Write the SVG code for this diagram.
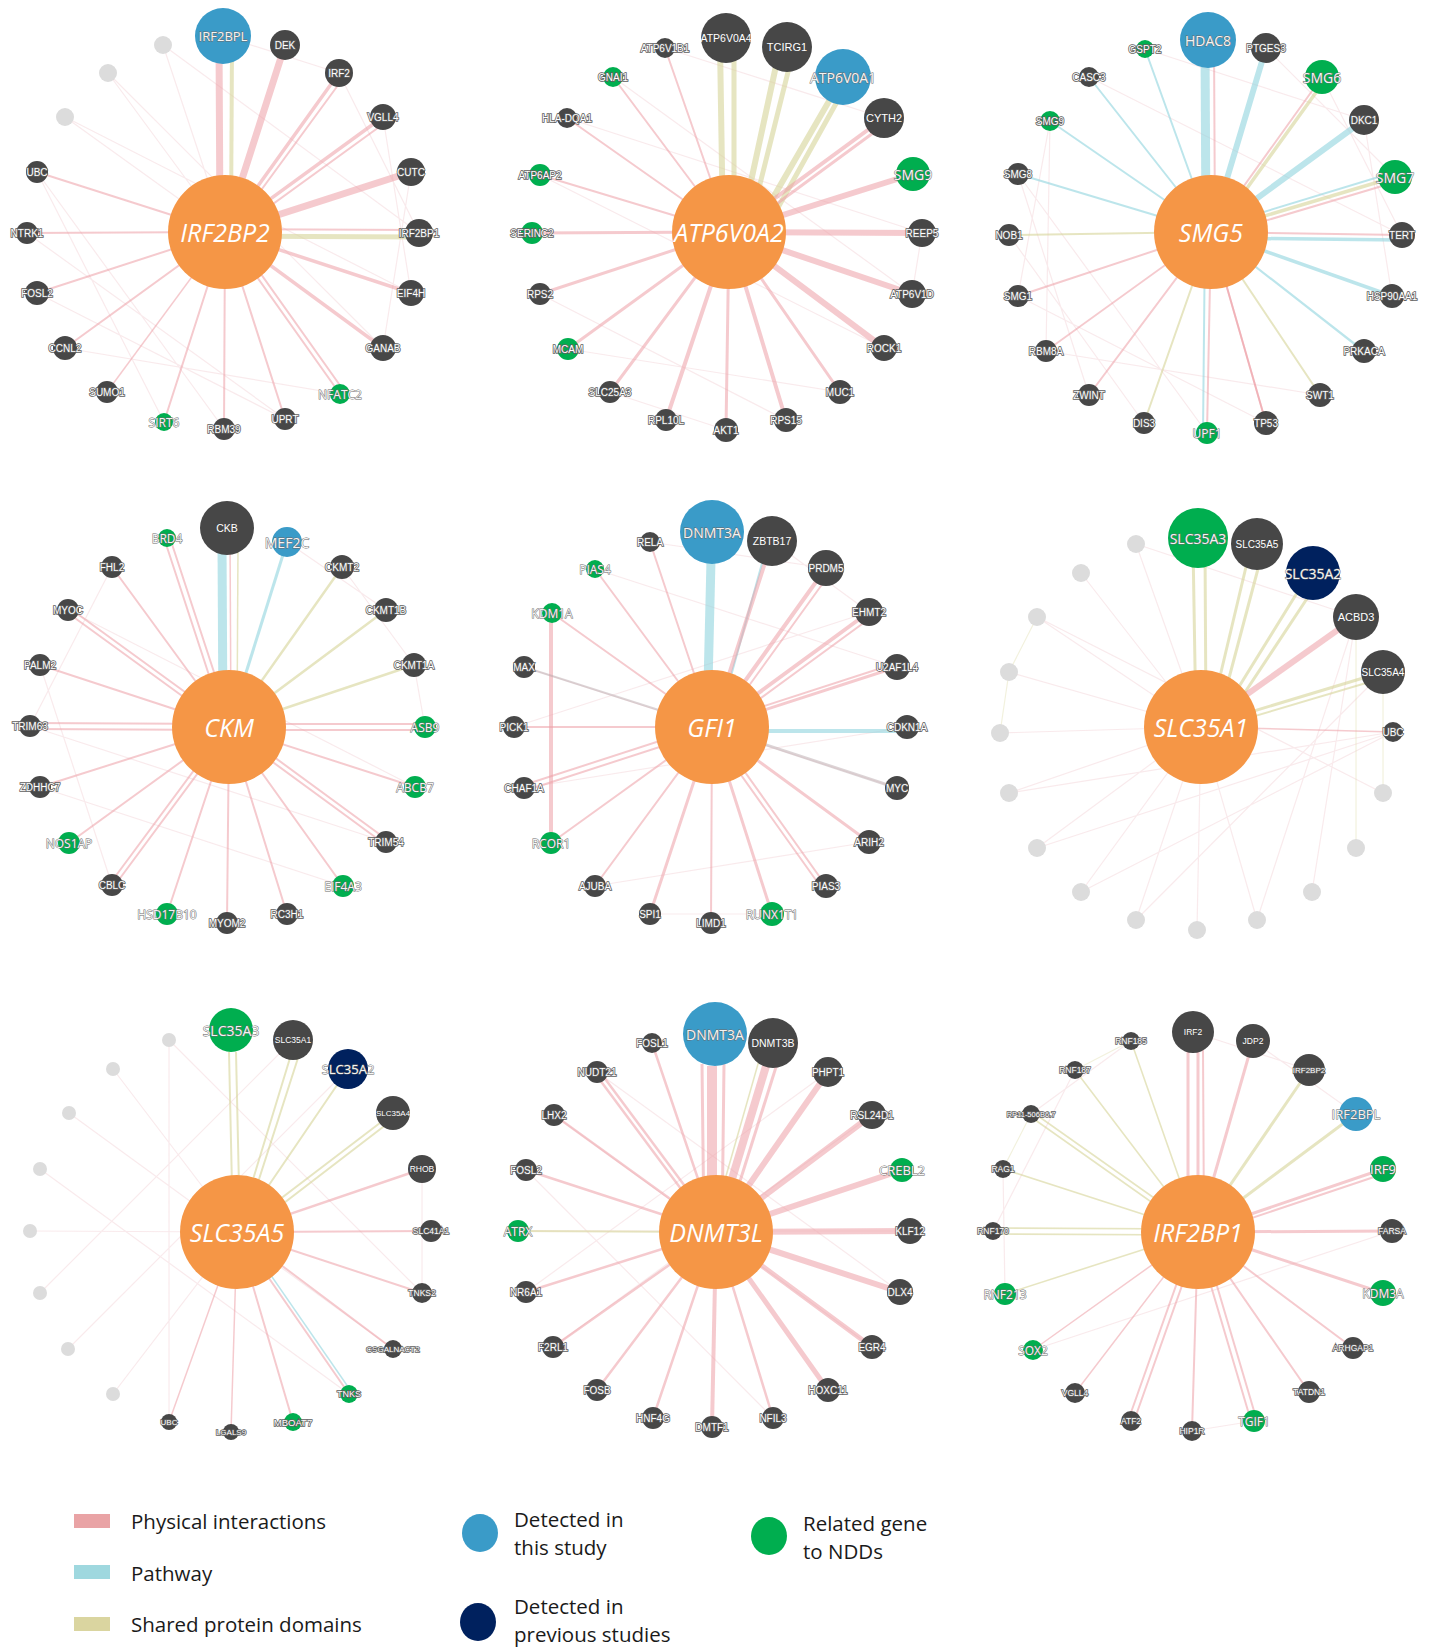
<svg xmlns="http://www.w3.org/2000/svg" width="1432" height="1649" viewBox="0 0 1432 1649">
<style>
.ep{stroke:#ec9ea6;stroke-opacity:.55;fill:none}
.ew{stroke:#8fd4dd;stroke-opacity:.6;fill:none}
.es{stroke:#d6d398;stroke-opacity:.6;fill:none}
.eg{stroke:#b9a9ae;stroke-opacity:.5;fill:none}
.x{stroke:#efc3c8;stroke-opacity:.35;stroke-width:1.2;fill:none}
.xs{stroke:#dfdcaa;stroke-opacity:.4;stroke-width:1.2;fill:none}
.c{fill:#f59646}
.d{fill:#474747}
.b{fill:#3a9bc8}
.g{fill:#00ae4f}
.n{fill:#00215e}
.f{fill:#dcdcdc}
.cl{font-family:"Open Sans",sans-serif;font-style:italic;font-size:25px;fill:#fff;text-anchor:middle;dominant-baseline:central}
.tl{font-family:"Liberation Sans",Arial,sans-serif;font-size:10px;fill:#fff;stroke:#5e5e5e;stroke-width:1.6;paint-order:stroke;text-anchor:middle;dominant-baseline:central}
.tu{font-family:"Open Sans",sans-serif;font-size:12px;fill:#f4f4f4;stroke:#6a6a6a;stroke-width:.9;paint-order:stroke;text-anchor:middle;dominant-baseline:central}
.tv{font-family:"Liberation Sans",Arial,sans-serif;font-size:10.5px;fill:#fff;text-anchor:middle;dominant-baseline:central}
.lg{font-family:"Open Sans","Liberation Sans",sans-serif;font-size:20.5px;fill:#1a1a1a;dominant-baseline:central}
</style>
<rect width="1432" height="1649" fill="#fff"/>
<g id="connectors">
<path class="x" d="M37 172L224 429M37 172L164 422M27 233L285 419M65 117L411 293M108 73L383 348M163 45L419 233M223 36L339 73M383 117L411 293M411 172L383 348M339 73L419 233M65 348L340 394M37 293L285 419M163 45L225 232M108 73L225 232M65 117L225 232"/>
<path class="es" stroke-width="4" d="M231 232L232 40"/>
<path class="es" stroke-width="5" d="M225 236L419 237"/>
<path class="ep" stroke-width="7" d="M220 232L219 40M225 232L285 45M225 232L411 172"/>
<path class="ep" stroke-width="3.5" d="M225 232L339 73M225 232L383 117M225 232L383 348M225 232L411 293"/>
<path class="ep" stroke-width="2" d="M229 234L344 77M229 236L386 122M225 232L340 394M229 229L344 391M225 232L285 419M225 232L224 429M225 232L164 422M225 232L65 348M225 232L37 293M225 232L27 233M225 232L37 172M225 229L419 230"/>
<path class="ep" stroke-width="1.5" d="M225 232L107 392"/>
<path class="x" d="M540 294L786 420M568 349L840 392M540 175L884 348M567 118L922 233M613 77L912 294M665 48L884 118M610 392L726 430M922 233L912 294"/>
<path class="es" stroke-width="6" d="M723 232L720 44M740 232L779 52M752 234L843 77"/>
<path class="es" stroke-width="5" d="M734 232L734 44M748 232L793 52M760 240L848 82"/>
<path class="ep" stroke-width="6" d="M729 232L913 174M729 232L922 233M729 232L912 294M729 232L884 348"/>
<path class="ep" stroke-width="4" d="M729 232L884 118M729 232L786 420M729 232L666 420"/>
<path class="ep" stroke-width="3" d="M733 236L888 122M729 232L840 392M729 232L726 430M729 232L610 392M729 232L568 349M729 232L540 294M729 232L532 233"/>
<path class="ep" stroke-width="2" d="M729 232L540 175M729 232L567 118M729 232L613 77M729 232L665 48"/>
<path class="x" d="M1018 174L1089 395M1009 235L1144 423M1050 121L1046 351M1089 77L1402 235M1145 49L1364 120M1018 296L1266 423M1046 351L1320 395M1266 48L1395 177M1322 77L1402 235M1364 120L1392 296M1018 174L1207 433M1050 121L1018 296"/>
<path class="ew" stroke-width="9" d="M1206 232L1205 48"/>
<path class="ep" stroke-width="2" d="M1215 232L1214 45M1211 232L1322 77M1214 236L1399 181M1211 232L1402 235M1211 232L1266 423M1211 232L1207 433M1211 232L1089 395M1211 232L1018 296"/>
<path class="ew" stroke-width="6" d="M1211 232L1266 48M1211 232L1364 120"/>
<path class="es" stroke-width="3.5" d="M1214 234L1325 80M1211 232L1395 177"/>
<path class="ew" stroke-width="3.5" d="M1211 238L1402 240M1211 232L1392 296"/>
<path class="ew" stroke-width="2" d="M1211 228L1395 172M1211 232L1364 351M1215 235L1367 354M1205 232L1203 433M1211 232L1018 174M1211 232L1050 121M1211 232L1089 77M1211 232L1145 49"/>
<path class="es" stroke-width="2" d="M1211 232L1320 395M1211 232L1144 423M1211 232L1009 235"/>
<path class="ep" stroke-width="1.8" d="M1211 232L1046 351M1211 232L1266 423"/>
<path class="x" d="M30 726L386 842M414 665L425 727M68 610L415 787M112 567L30 726M40 665L112 885M342 567L414 665M287 542L386 610M40 787L343 886"/>
<path class="ew" stroke-width="9" d="M223 727L222 545"/>
<path class="ep" stroke-width="1.5" d="M231 727L230 535"/>
<path class="es" stroke-width="1.5" d="M237 727L238 545"/>
<path class="ew" stroke-width="3" d="M229 727L287 542"/>
<path class="es" stroke-width="2.5" d="M229 727L342 567M229 727L386 610M229 727L414 665"/>
<path class="ep" stroke-width="2" d="M229 724L425 724M229 730L425 730M229 727L415 787M229 724L386 839M229 730L386 845M229 727L343 886M229 727L287 914M229 727L227 923M229 727L167 914M226 727L109 885M232 727L115 885M229 727L69 843M229 727L40 787M229 724L30 723M229 730L30 729M229 727L40 665M229 724L68 607M229 730L68 613M229 727L112 567M226 727L164 538M232 727L170 538"/>
<path class="x" d="M524 667L897 788M514 727L869 612M595 569L897 667M650 542L826 568M524 788L907 727M595 886L869 842M650 914L772 914M772 541L869 612"/>
<path class="ep" stroke-width="4" d="M551 613L551 843"/>
<path class="ew" stroke-width="9" d="M707 727L711 560"/>
<path class="ew" stroke-width="2" d="M717 727L767 545"/>
<path class="ew" stroke-width="4" d="M712 731L907 731"/>
<path class="ep" stroke-width="4" d="M712 727L772 541M712 727L826 568M712 727L869 612"/>
<path class="ep" stroke-width="3" d="M712 727L897 667M712 727L869 842M712 727L772 914M712 727L650 914"/>
<path class="eg" stroke-width="3" d="M712 727L897 788"/>
<path class="eg" stroke-width="2" d="M712 727L524 667"/>
<path class="ep" stroke-width="2" d="M717 730L831 572M716 731L873 616M712 723L897 663M709 730L823 890M715 730L829 890M712 727L711 923M712 727L595 886M712 727L551 843M712 724L524 785M712 730L524 791M712 727L514 727M712 727L552 613M712 727L595 569M712 727L650 542"/>
<path class="x" d="M1393 732L1037 848M1393 732L1081 892M1356 617L1257 920M1356 617L1312 892M1383 672L1136 920M1393 732L1009 793M1201 727L1037 617M1201 727L1081 573M1201 727L1136 544M1201 727L1009 672M1201 727L1000 733M1201 727L1009 793M1201 727L1037 848M1201 727L1081 892M1201 727L1136 920M1201 727L1197 930M1201 727L1257 920M1136 544L1356 617M1037 617L1383 793M1081 892L1393 732"/>
<path class="xs" d="M1009 672L1000 733M1037 617L1009 672M1383 672L1383 793M1356 617L1356 848"/>
<path class="es" stroke-width="3" d="M1196 727L1193 545M1206 727L1205 545M1208 727L1250 550M1216 727L1263 550M1214 727L1305 580M1220 730L1318 582M1201 727L1383 672"/>
<path class="es" stroke-width="2" d="M1201 732L1383 678"/>
<path class="ep" stroke-width="6" d="M1201 727L1356 617"/>
<path class="ep" stroke-width="1.5" d="M1201 727L1393 732"/>
<path class="x" d="M113 1069L237 1232M169 1040L422 1293M69 1113L393 1349M40 1169L349 1394M30 1231L237 1232M40 1293L293 1040M68 1349L348 1069M113 1394L237 1232M169 1040L169 1422M422 1169L422 1293"/>
<path class="es" stroke-width="2" d="M233 1232L229 1052M240 1232L236 1052M237 1232L290 1058M242 1232L298 1058M237 1232L348 1069M237 1232L393 1113M241 1236L396 1117"/>
<path class="ep" stroke-width="2.5" d="M237 1232L422 1169"/>
<path class="ep" stroke-width="2" d="M237 1232L431 1231M237 1232L422 1293M237 1232L393 1349M237 1232L349 1394M237 1232L293 1422"/>
<path class="ew" stroke-width="1.5" d="M241 1232L353 1394"/>
<path class="ep" stroke-width="1.5" d="M237 1232L231 1432M237 1232L169 1422"/>
<path class="x" d="M526 1170L773 1418M554 1115L872 1347M597 1072L900 1292M526 1292L828 1072M518 1231L910 1231M553 1347L872 1115"/>
<path class="ep" stroke-width="10" d="M712 1232L712 1066"/>
<path class="ep" stroke-width="3" d="M704 1232L702 1064M722 1232L724 1064"/>
<path class="ep" stroke-width="8" d="M716 1232L773 1043"/>
<path class="ep" stroke-width="3" d="M724 1232L782 1048"/>
<path class="es" stroke-width="1.5" d="M710 1232L762 1050"/>
<path class="ep" stroke-width="6" d="M716 1232L828 1072M716 1232L872 1115M716 1232L902 1170M716 1232L910 1231M716 1232L900 1292"/>
<path class="ep" stroke-width="5" d="M716 1232L872 1347M716 1232L828 1390"/>
<path class="ep" stroke-width="4" d="M716 1232L712 1427"/>
<path class="ep" stroke-width="2.5" d="M716 1232L773 1418M716 1232L653 1418M716 1232L597 1390M716 1232L553 1347M716 1232L526 1292M716 1232L526 1170M716 1232L554 1115M713 1232L594 1072M719 1232L600 1072M716 1232L652 1043"/>
<path class="es" stroke-width="2" d="M716 1232L518 1231"/>
<path class="x" d="M1193 1032L1309 1070M1253 1041L1356 1114M1131 1041L1031 1114M1075 1070L993 1231M1003 1169L1005 1294M1192 1431L1254 1421M1033 1350L1392 1231"/>
<path class="xs" d="M1031 1114L1003 1169M1075 1070L1131 1041"/>
<path class="ep" stroke-width="3" d="M1188 1232L1188 1050M1198 1232L1198 1050M1198 1232L1253 1041M1198 1232L1383 1169M1198 1232L1392 1231M1198 1232L1383 1293"/>
<path class="ep" stroke-width="2" d="M1204 1232L1203 1050M1198 1236L1383 1174M1198 1232L1353 1348M1198 1232L1309 1392M1195 1232L1251 1421M1201 1232L1257 1421M1198 1232L1192 1431M1195 1232L1128 1421M1201 1232L1134 1421"/>
<path class="ep" stroke-width="1.5" d="M1198 1232L1075 1393M1198 1232L1033 1350"/>
<path class="es" stroke-width="3" d="M1198 1232L1309 1070M1198 1232L1356 1114"/>
<path class="es" stroke-width="1.6" d="M1198 1232L1005 1294M1198 1229L993 1228M1198 1235L993 1234M1198 1232L1003 1169M1198 1229L1031 1111M1198 1235L1031 1117M1198 1232L1075 1070M1198 1232L1131 1041"/>
</g>
<g id="n1-IRF2BP2"><circle class="c" cx="225" cy="232" r="57"/><text class="cl" x="225" y="232">IRF2BP2</text></g>
<g id="n1-IRF2BPL"><circle class="b" cx="223" cy="36" r="28"/><text class="tu" x="223" y="36" style="font-size:13px">IRF2BPL</text></g>
<g id="n1-DEK"><circle class="d" cx="285" cy="45" r="15"/><text class="tl" x="285" y="45">DEK</text></g>
<g id="n1-IRF2"><circle class="d" cx="339" cy="73" r="14"/><text class="tl" x="339" y="73">IRF2</text></g>
<g id="n1-VGLL4"><circle class="d" cx="383" cy="117" r="13"/><text class="tl" x="383" y="117">VGLL4</text></g>
<g id="n1-CUTC"><circle class="d" cx="411" cy="172" r="14"/><text class="tl" x="411" y="172">CUTC</text></g>
<g id="n1-IRF2BP1"><circle class="d" cx="419" cy="233" r="14"/><text class="tl" x="419" y="233">IRF2BP1</text></g>
<g id="n1-EIF4H"><circle class="d" cx="411" cy="293" r="13"/><text class="tl" x="411" y="293">EIF4H</text></g>
<g id="n1-GANAB"><circle class="d" cx="383" cy="348" r="13"/><text class="tl" x="383" y="348">GANAB</text></g>
<g id="n1-NFATC2"><circle class="g" cx="340" cy="394" r="10"/><text class="tu" x="340" y="394">NFATC2</text></g>
<g id="n1-UPRT"><circle class="d" cx="285" cy="419" r="11"/><text class="tl" x="285" y="419">UPRT</text></g>
<g id="n1-RBM39"><circle class="d" cx="224" cy="429" r="11"/><text class="tl" x="224" y="429">RBM39</text></g>
<g id="n1-SIRT6"><circle class="g" cx="164" cy="422" r="9"/><text class="tu" x="164" y="422">SIRT6</text></g>
<g id="n1-SUMO1"><circle class="d" cx="107" cy="392" r="11"/><text class="tl" x="107" y="392">SUMO1</text></g>
<g id="n1-CCNL2"><circle class="d" cx="65" cy="348" r="12"/><text class="tl" x="65" y="348">CCNL2</text></g>
<g id="n1-FOSL2"><circle class="d" cx="37" cy="293" r="12"/><text class="tl" x="37" y="293">FOSL2</text></g>
<g id="n1-NTRK1"><circle class="d" cx="27" cy="233" r="11"/><text class="tl" x="27" y="233">NTRK1</text></g>
<g id="n1-UBC"><circle class="d" cx="37" cy="172" r="11"/><text class="tl" x="37" y="172">UBC</text></g>
<g id="n1-f1"><circle class="f" cx="65" cy="117" r="9"/></g>
<g id="n1-f2"><circle class="f" cx="108" cy="73" r="9"/></g>
<g id="n1-f3"><circle class="f" cx="163" cy="45" r="9"/></g>
<g id="n2-ATP6V0A2"><circle class="c" cx="729" cy="232" r="57"/><text class="cl" x="729" y="232">ATP6V0A2</text></g>
<g id="n2-ATP6V0A4"><circle class="d" cx="726" cy="38" r="25"/><text class="tv" x="726" y="38">ATP6V0A4</text></g>
<g id="n2-TCIRG1"><circle class="d" cx="787" cy="47" r="25"/><text class="tv" x="787" y="47" style="font-size:11px">TCIRG1</text></g>
<g id="n2-ATP6V0A1"><circle class="b" cx="843" cy="77" r="28"/><text class="tu" x="843" y="77" style="font-size:14px">ATP6V0A1</text></g>
<g id="n2-CYTH2"><circle class="d" cx="884" cy="118" r="20"/><text class="tv" x="884" y="118" style="font-size:11px">CYTH2</text></g>
<g id="n2-SMG9"><circle class="g" cx="913" cy="174" r="17"/><text class="tu" x="913" y="174" style="font-size:14px">SMG9</text></g>
<g id="n2-REEP5"><circle class="d" cx="922" cy="233" r="14"/><text class="tl" x="922" y="233">REEP5</text></g>
<g id="n2-ATP6V1D"><circle class="d" cx="912" cy="294" r="14"/><text class="tl" x="912" y="294">ATP6V1D</text></g>
<g id="n2-ROCK1"><circle class="d" cx="884" cy="348" r="13"/><text class="tl" x="884" y="348">ROCK1</text></g>
<g id="n2-MUC1"><circle class="d" cx="840" cy="392" r="12"/><text class="tl" x="840" y="392">MUC1</text></g>
<g id="n2-RPS15"><circle class="d" cx="786" cy="420" r="12"/><text class="tl" x="786" y="420">RPS15</text></g>
<g id="n2-AKT1"><circle class="d" cx="726" cy="430" r="12"/><text class="tl" x="726" y="430">AKT1</text></g>
<g id="n2-RPL10L"><circle class="d" cx="666" cy="420" r="11"/><text class="tl" x="666" y="420">RPL10L</text></g>
<g id="n2-SLC25A3"><circle class="d" cx="610" cy="392" r="11"/><text class="tl" x="610" y="392">SLC25A3</text></g>
<g id="n2-MCAM"><circle class="g" cx="568" cy="349" r="11"/><text class="tl" x="568" y="349">MCAM</text></g>
<g id="n2-RPS2"><circle class="d" cx="540" cy="294" r="11"/><text class="tl" x="540" y="294">RPS2</text></g>
<g id="n2-SERINC2"><circle class="g" cx="532" cy="233" r="11"/><text class="tl" x="532" y="233">SERINC2</text></g>
<g id="n2-ATP6AP2"><circle class="g" cx="540" cy="175" r="11"/><text class="tl" x="540" y="175">ATP6AP2</text></g>
<g id="n2-HLA-DQA1"><circle class="d" cx="567" cy="118" r="10"/><text class="tl" x="567" y="118">HLA-DQA1</text></g>
<g id="n2-GNAI1"><circle class="g" cx="613" cy="77" r="10"/><text class="tl" x="613" y="77">GNAI1</text></g>
<g id="n2-ATP6V1B1"><circle class="d" cx="665" cy="48" r="10"/><text class="tl" x="665" y="48">ATP6V1B1</text></g>
<g id="n3-SMG5"><circle class="c" cx="1211" cy="232" r="57"/><text class="cl" x="1211" y="232">SMG5</text></g>
<g id="n3-HDAC8"><circle class="b" cx="1208" cy="40" r="28"/><text class="tu" x="1208" y="40" style="font-size:14px">HDAC8</text></g>
<g id="n3-PTGES3"><circle class="d" cx="1266" cy="48" r="15"/><text class="tl" x="1266" y="48">PTGES3</text></g>
<g id="n3-SMG6"><circle class="g" cx="1322" cy="77" r="17"/><text class="tu" x="1322" y="77" style="font-size:14px">SMG6</text></g>
<g id="n3-DKC1"><circle class="d" cx="1364" cy="120" r="15"/><text class="tl" x="1364" y="120">DKC1</text></g>
<g id="n3-SMG7"><circle class="g" cx="1395" cy="177" r="17"/><text class="tu" x="1395" y="177" style="font-size:14px">SMG7</text></g>
<g id="n3-TERT"><circle class="d" cx="1402" cy="235" r="13"/><text class="tl" x="1402" y="235">TERT</text></g>
<g id="n3-HSP90AA1"><circle class="d" cx="1392" cy="296" r="12"/><text class="tl" x="1392" y="296">HSP90AA1</text></g>
<g id="n3-PRKACA"><circle class="d" cx="1364" cy="351" r="12"/><text class="tl" x="1364" y="351">PRKACA</text></g>
<g id="n3-SWT1"><circle class="d" cx="1320" cy="395" r="12"/><text class="tl" x="1320" y="395">SWT1</text></g>
<g id="n3-TP53"><circle class="d" cx="1266" cy="423" r="12"/><text class="tl" x="1266" y="423">TP53</text></g>
<g id="n3-UPF1"><circle class="g" cx="1207" cy="433" r="11"/><text class="tu" x="1207" y="433">UPF1</text></g>
<g id="n3-DIS3"><circle class="d" cx="1144" cy="423" r="11"/><text class="tl" x="1144" y="423">DIS3</text></g>
<g id="n3-ZWINT"><circle class="d" cx="1089" cy="395" r="11"/><text class="tl" x="1089" y="395">ZWINT</text></g>
<g id="n3-RBM8A"><circle class="d" cx="1046" cy="351" r="11"/><text class="tl" x="1046" y="351">RBM8A</text></g>
<g id="n3-SMG1"><circle class="d" cx="1018" cy="296" r="11"/><text class="tl" x="1018" y="296">SMG1</text></g>
<g id="n3-NOB1"><circle class="d" cx="1009" cy="235" r="11"/><text class="tl" x="1009" y="235">NOB1</text></g>
<g id="n3-SMG8"><circle class="d" cx="1018" cy="174" r="11"/><text class="tl" x="1018" y="174">SMG8</text></g>
<g id="n3-SMG9"><circle class="g" cx="1050" cy="121" r="10"/><text class="tl" x="1050" y="121">SMG9</text></g>
<g id="n3-CASC3"><circle class="d" cx="1089" cy="77" r="10"/><text class="tl" x="1089" y="77">CASC3</text></g>
<g id="n3-GSPT2"><circle class="g" cx="1145" cy="49" r="9"/><text class="tl" x="1145" y="49">GSPT2</text></g>
<g id="n4-CKM"><circle class="c" cx="229" cy="727" r="57"/><text class="cl" x="229" y="727">CKM</text></g>
<g id="n4-CKB"><circle class="d" cx="227" cy="528" r="27"/><text class="tv" x="227" y="528">CKB</text></g>
<g id="n4-MEF2C"><circle class="b" cx="287" cy="542" r="15"/><text class="tu" x="287" y="542" style="font-size:14px">MEF2C</text></g>
<g id="n4-CKMT2"><circle class="d" cx="342" cy="567" r="12"/><text class="tl" x="342" y="567">CKMT2</text></g>
<g id="n4-CKMT1B"><circle class="d" cx="386" cy="610" r="12"/><text class="tl" x="386" y="610">CKMT1B</text></g>
<g id="n4-CKMT1A"><circle class="d" cx="414" cy="665" r="12"/><text class="tl" x="414" y="665">CKMT1A</text></g>
<g id="n4-ASB9"><circle class="g" cx="425" cy="727" r="11"/><text class="tu" x="425" y="727">ASB9</text></g>
<g id="n4-ABCB7"><circle class="g" cx="415" cy="787" r="11"/><text class="tu" x="415" y="787">ABCB7</text></g>
<g id="n4-TRIM54"><circle class="d" cx="386" cy="842" r="11"/><text class="tl" x="386" y="842">TRIM54</text></g>
<g id="n4-EIF4A3"><circle class="g" cx="343" cy="886" r="11"/><text class="tu" x="343" y="886">EIF4A3</text></g>
<g id="n4-RC3H1"><circle class="d" cx="287" cy="914" r="11"/><text class="tl" x="287" y="914">RC3H1</text></g>
<g id="n4-MYOM2"><circle class="d" cx="227" cy="923" r="11"/><text class="tl" x="227" y="923">MYOM2</text></g>
<g id="n4-HSD17B10"><circle class="g" cx="167" cy="914" r="11"/><text class="tu" x="167" y="914">HSD17B10</text></g>
<g id="n4-CBLC"><circle class="d" cx="112" cy="885" r="11"/><text class="tl" x="112" y="885">CBLC</text></g>
<g id="n4-NOS1AP"><circle class="g" cx="69" cy="843" r="11"/><text class="tu" x="69" y="843">NOS1AP</text></g>
<g id="n4-ZDHHC7"><circle class="d" cx="40" cy="787" r="11"/><text class="tl" x="40" y="787">ZDHHC7</text></g>
<g id="n4-TRIM63"><circle class="d" cx="30" cy="726" r="11"/><text class="tl" x="30" y="726">TRIM63</text></g>
<g id="n4-PALM2"><circle class="d" cx="40" cy="665" r="11"/><text class="tl" x="40" y="665">PALM2</text></g>
<g id="n4-MYOC"><circle class="d" cx="68" cy="610" r="11"/><text class="tl" x="68" y="610">MYOC</text></g>
<g id="n4-FHL2"><circle class="d" cx="112" cy="567" r="11"/><text class="tl" x="112" y="567">FHL2</text></g>
<g id="n4-BRD4"><circle class="g" cx="167" cy="538" r="9"/><text class="tu" x="167" y="538">BRD4</text></g>
<g id="n5-GFI1"><circle class="c" cx="712" cy="727" r="57"/><text class="cl" x="712" y="727">GFI1</text></g>
<g id="n5-DNMT3A"><circle class="b" cx="712" cy="532" r="32"/><text class="tu" x="712" y="532" style="font-size:14px">DNMT3A</text></g>
<g id="n5-ZBTB17"><circle class="d" cx="772" cy="541" r="25"/><text class="tv" x="772" y="541">ZBTB17</text></g>
<g id="n5-PRDM5"><circle class="d" cx="826" cy="568" r="18"/><text class="tl" x="826" y="568">PRDM5</text></g>
<g id="n5-EHMT2"><circle class="d" cx="869" cy="612" r="14"/><text class="tl" x="869" y="612">EHMT2</text></g>
<g id="n5-U2AF1L4"><circle class="d" cx="897" cy="667" r="13"/><text class="tl" x="897" y="667">U2AF1L4</text></g>
<g id="n5-CDKN1A"><circle class="d" cx="907" cy="727" r="12"/><text class="tl" x="907" y="727">CDKN1A</text></g>
<g id="n5-MYC"><circle class="d" cx="897" cy="788" r="12"/><text class="tl" x="897" y="788">MYC</text></g>
<g id="n5-ARIH2"><circle class="d" cx="869" cy="842" r="12"/><text class="tl" x="869" y="842">ARIH2</text></g>
<g id="n5-PIAS3"><circle class="d" cx="826" cy="886" r="12"/><text class="tl" x="826" y="886">PIAS3</text></g>
<g id="n5-RUNX1T1"><circle class="g" cx="772" cy="914" r="12"/><text class="tu" x="772" y="914">RUNX1T1</text></g>
<g id="n5-LIMD1"><circle class="d" cx="711" cy="923" r="11"/><text class="tl" x="711" y="923">LIMD1</text></g>
<g id="n5-SPI1"><circle class="d" cx="650" cy="914" r="11"/><text class="tl" x="650" y="914">SPI1</text></g>
<g id="n5-AJUBA"><circle class="d" cx="595" cy="886" r="11"/><text class="tl" x="595" y="886">AJUBA</text></g>
<g id="n5-RCOR1"><circle class="g" cx="551" cy="843" r="11"/><text class="tu" x="551" y="843">RCOR1</text></g>
<g id="n5-CHAF1A"><circle class="d" cx="524" cy="788" r="11"/><text class="tl" x="524" y="788">CHAF1A</text></g>
<g id="n5-PICK1"><circle class="d" cx="514" cy="727" r="11"/><text class="tl" x="514" y="727">PICK1</text></g>
<g id="n5-MAX"><circle class="d" cx="524" cy="667" r="11"/><text class="tl" x="524" y="667">MAX</text></g>
<g id="n5-KDM1A"><circle class="g" cx="552" cy="613" r="10"/><text class="tu" x="552" y="613">KDM1A</text></g>
<g id="n5-PIAS4"><circle class="g" cx="595" cy="569" r="9"/><text class="tu" x="595" y="569">PIAS4</text></g>
<g id="n5-RELA"><circle class="d" cx="650" cy="542" r="10"/><text class="tl" x="650" y="542">RELA</text></g>
<g id="n6-SLC35A1"><circle class="c" cx="1201" cy="727" r="57"/><text class="cl" x="1201" y="727">SLC35A1</text></g>
<g id="n6-SLC35A3"><circle class="g" cx="1198" cy="538" r="30"/><text class="tu" x="1198" y="538" style="font-size:14px">SLC35A3</text></g>
<g id="n6-SLC35A5"><circle class="d" cx="1257" cy="544" r="26"/><text class="tv" x="1257" y="544" style="font-size:10px">SLC35A5</text></g>
<g id="n6-SLC35A2"><circle class="n" cx="1313" cy="573" r="27"/><text class="tu" x="1313" y="573" style="font-size:14px">SLC35A2</text></g>
<g id="n6-ACBD3"><circle class="d" cx="1356" cy="617" r="23"/><text class="tv" x="1356" y="617" style="font-size:11px">ACBD3</text></g>
<g id="n6-SLC35A4"><circle class="d" cx="1383" cy="672" r="22"/><text class="tv" x="1383" y="672" style="font-size:10px">SLC35A4</text></g>
<g id="n6-UBC"><circle class="d" cx="1393" cy="732" r="10"/><text class="tl" x="1393" y="732">UBC</text></g>
<g id="n6-f1"><circle class="f" cx="1383" cy="793" r="9"/></g>
<g id="n6-f2"><circle class="f" cx="1356" cy="848" r="9"/></g>
<g id="n6-f3"><circle class="f" cx="1312" cy="892" r="9"/></g>
<g id="n6-f4"><circle class="f" cx="1257" cy="920" r="9"/></g>
<g id="n6-f5"><circle class="f" cx="1197" cy="930" r="9"/></g>
<g id="n6-f6"><circle class="f" cx="1136" cy="920" r="9"/></g>
<g id="n6-f7"><circle class="f" cx="1081" cy="892" r="9"/></g>
<g id="n6-f8"><circle class="f" cx="1037" cy="848" r="9"/></g>
<g id="n6-f9"><circle class="f" cx="1009" cy="793" r="9"/></g>
<g id="n6-f10"><circle class="f" cx="1000" cy="733" r="9"/></g>
<g id="n6-f11"><circle class="f" cx="1009" cy="672" r="9"/></g>
<g id="n6-f12"><circle class="f" cx="1037" cy="617" r="9"/></g>
<g id="n6-f13"><circle class="f" cx="1081" cy="573" r="9"/></g>
<g id="n6-f14"><circle class="f" cx="1136" cy="544" r="9"/></g>
<g id="n7-SLC35A5"><circle class="c" cx="237" cy="1232" r="57"/><text class="cl" x="237" y="1232">SLC35A5</text></g>
<g id="n7-SLC35A3"><circle class="g" cx="231" cy="1030" r="22"/><text class="tu" x="231" y="1030" style="font-size:14px">SLC35A3</text></g>
<g id="n7-SLC35A1"><circle class="d" cx="293" cy="1040" r="20"/><text class="tv" x="293" y="1040" style="font-size:8.5px">SLC35A1</text></g>
<g id="n7-SLC35A2"><circle class="n" cx="348" cy="1069" r="20"/><text class="tu" x="348" y="1069" style="font-size:13px">SLC35A2</text></g>
<g id="n7-SLC35A4"><circle class="d" cx="393" cy="1113" r="17"/><text class="tv" x="393" y="1113" style="font-size:8px">SLC35A4</text></g>
<g id="n7-RHOB"><circle class="d" cx="422" cy="1169" r="14"/><text class="tv" x="422" y="1169" style="font-size:8.5px">RHOB</text></g>
<g id="n7-SLC41A1"><circle class="d" cx="431" cy="1231" r="11"/><text class="tl" x="431" y="1231" style="font-size:8.5px">SLC41A1</text></g>
<g id="n7-TNKS2"><circle class="d" cx="422" cy="1293" r="10"/><text class="tl" x="422" y="1293" style="font-size:8.5px">TNKS2</text></g>
<g id="n7-CSGALNACT2"><circle class="d" cx="393" cy="1349" r="9"/><text class="tl" x="393" y="1349" style="font-size:8px">CSGALNACT2</text></g>
<g id="n7-TNKS"><circle class="g" cx="349" cy="1394" r="9"/><text class="tl" x="349" y="1394" style="font-size:9px">TNKS</text></g>
<g id="n7-MBOAT7"><circle class="g" cx="293" cy="1422" r="9"/><text class="tl" x="293" y="1422" style="font-size:9.5px">MBOAT7</text></g>
<g id="n7-LGALS9"><circle class="d" cx="231" cy="1432" r="8"/><text class="tl" x="231" y="1432" style="font-size:8px">LGALS9</text></g>
<g id="n7-UBC"><circle class="d" cx="169" cy="1422" r="8"/><text class="tl" x="169" y="1422" style="font-size:8px">UBC</text></g>
<g id="n7-f1"><circle class="f" cx="113" cy="1394" r="7"/></g>
<g id="n7-f2"><circle class="f" cx="68" cy="1349" r="7"/></g>
<g id="n7-f3"><circle class="f" cx="40" cy="1293" r="7"/></g>
<g id="n7-f4"><circle class="f" cx="30" cy="1231" r="7"/></g>
<g id="n7-f5"><circle class="f" cx="40" cy="1169" r="7"/></g>
<g id="n7-f6"><circle class="f" cx="69" cy="1113" r="7"/></g>
<g id="n7-f7"><circle class="f" cx="113" cy="1069" r="7"/></g>
<g id="n7-f8"><circle class="f" cx="169" cy="1040" r="7"/></g>
<g id="n8-DNMT3L"><circle class="c" cx="716" cy="1232" r="57"/><text class="cl" x="716" y="1232">DNMT3L</text></g>
<g id="n8-DNMT3A"><circle class="b" cx="715" cy="1034" r="32"/><text class="tu" x="715" y="1034" style="font-size:14px">DNMT3A</text></g>
<g id="n8-DNMT3B"><circle class="d" cx="773" cy="1043" r="25"/><text class="tv" x="773" y="1043">DNMT3B</text></g>
<g id="n8-PHPT1"><circle class="d" cx="828" cy="1072" r="15"/><text class="tl" x="828" y="1072">PHPT1</text></g>
<g id="n8-RSL24D1"><circle class="d" cx="872" cy="1115" r="14"/><text class="tl" x="872" y="1115">RSL24D1</text></g>
<g id="n8-CREBL2"><circle class="g" cx="902" cy="1170" r="12"/><text class="tu" x="902" y="1170" style="font-size:13px">CREBL2</text></g>
<g id="n8-KLF12"><circle class="d" cx="910" cy="1231" r="13"/><text class="tl" x="910" y="1231">KLF12</text></g>
<g id="n8-DLX4"><circle class="d" cx="900" cy="1292" r="13"/><text class="tl" x="900" y="1292">DLX4</text></g>
<g id="n8-EGR4"><circle class="d" cx="872" cy="1347" r="12"/><text class="tl" x="872" y="1347">EGR4</text></g>
<g id="n8-HOXC11"><circle class="d" cx="828" cy="1390" r="12"/><text class="tl" x="828" y="1390">HOXC11</text></g>
<g id="n8-NFIL3"><circle class="d" cx="773" cy="1418" r="11"/><text class="tl" x="773" y="1418">NFIL3</text></g>
<g id="n8-DMTF1"><circle class="d" cx="712" cy="1427" r="11"/><text class="tl" x="712" y="1427">DMTF1</text></g>
<g id="n8-HNF4G"><circle class="d" cx="653" cy="1418" r="11"/><text class="tl" x="653" y="1418">HNF4G</text></g>
<g id="n8-FOSB"><circle class="d" cx="597" cy="1390" r="11"/><text class="tl" x="597" y="1390">FOSB</text></g>
<g id="n8-F2RL1"><circle class="d" cx="553" cy="1347" r="11"/><text class="tl" x="553" y="1347">F2RL1</text></g>
<g id="n8-NR6A1"><circle class="d" cx="526" cy="1292" r="11"/><text class="tl" x="526" y="1292">NR6A1</text></g>
<g id="n8-ATRX"><circle class="g" cx="518" cy="1231" r="11"/><text class="tu" x="518" y="1231">ATRX</text></g>
<g id="n8-FOSL2"><circle class="d" cx="526" cy="1170" r="11"/><text class="tl" x="526" y="1170">FOSL2</text></g>
<g id="n8-LHX2"><circle class="d" cx="554" cy="1115" r="11"/><text class="tl" x="554" y="1115">LHX2</text></g>
<g id="n8-NUDT21"><circle class="d" cx="597" cy="1072" r="11"/><text class="tl" x="597" y="1072">NUDT21</text></g>
<g id="n8-FOSL1"><circle class="d" cx="652" cy="1043" r="10"/><text class="tl" x="652" y="1043">FOSL1</text></g>
<g id="n9-IRF2BP1"><circle class="c" cx="1198" cy="1232" r="57"/><text class="cl" x="1198" y="1232">IRF2BP1</text></g>
<g id="n9-IRF2"><circle class="d" cx="1193" cy="1032" r="21"/><text class="tv" x="1193" y="1032" style="font-size:8.5px">IRF2</text></g>
<g id="n9-JDP2"><circle class="d" cx="1253" cy="1041" r="17"/><text class="tv" x="1253" y="1041" style="font-size:8.5px">JDP2</text></g>
<g id="n9-IRF2BP2"><circle class="d" cx="1309" cy="1070" r="16"/><text class="tl" x="1309" y="1070" style="font-size:8px">IRF2BP2</text></g>
<g id="n9-IRF2BPL"><circle class="b" cx="1356" cy="1114" r="17"/><text class="tu" x="1356" y="1114" style="font-size:13px">IRF2BPL</text></g>
<g id="n9-IRF9"><circle class="g" cx="1383" cy="1169" r="13"/><text class="tu" x="1383" y="1169" style="font-size:13px">IRF9</text></g>
<g id="n9-FARSA"><circle class="d" cx="1392" cy="1231" r="12"/><text class="tl" x="1392" y="1231" style="font-size:8.5px">FARSA</text></g>
<g id="n9-KDM3A"><circle class="g" cx="1383" cy="1293" r="13"/><text class="tu" x="1383" y="1293">KDM3A</text></g>
<g id="n9-ARHGAP1"><circle class="d" cx="1353" cy="1348" r="11"/><text class="tl" x="1353" y="1348" style="font-size:8.5px">ARHGAP1</text></g>
<g id="n9-TATDN1"><circle class="d" cx="1309" cy="1392" r="11"/><text class="tl" x="1309" y="1392" style="font-size:8.5px">TATDN1</text></g>
<g id="n9-TGIF1"><circle class="g" cx="1254" cy="1421" r="11"/><text class="tu" x="1254" y="1421">TGIF1</text></g>
<g id="n9-HIP1R"><circle class="d" cx="1192" cy="1431" r="10"/><text class="tl" x="1192" y="1431" style="font-size:8.5px">HIP1R</text></g>
<g id="n9-ATF2"><circle class="d" cx="1131" cy="1421" r="10"/><text class="tl" x="1131" y="1421" style="font-size:8.5px">ATF2</text></g>
<g id="n9-VGLL4"><circle class="d" cx="1075" cy="1393" r="10"/><text class="tl" x="1075" y="1393" style="font-size:8.5px">VGLL4</text></g>
<g id="n9-SOX2"><circle class="g" cx="1033" cy="1350" r="10"/><text class="tu" x="1033" y="1350">SOX2</text></g>
<g id="n9-RNF213"><circle class="g" cx="1005" cy="1294" r="11"/><text class="tu" x="1005" y="1294">RNF213</text></g>
<g id="n9-RNF170"><circle class="d" cx="993" cy="1231" r="9"/><text class="tl" x="993" y="1231" style="font-size:8.5px">RNF170</text></g>
<g id="n9-RAG1"><circle class="d" cx="1003" cy="1169" r="9"/><text class="tl" x="1003" y="1169" style="font-size:8.5px">RAG1</text></g>
<g id="n9-RP11-506B6.7"><circle class="d" cx="1031" cy="1114" r="9"/><text class="tl" x="1031" y="1114" style="font-size:7.5px">RP11-506B6.7</text></g>
<g id="n9-RNF187"><circle class="d" cx="1075" cy="1070" r="9"/><text class="tl" x="1075" y="1070" style="font-size:8.5px">RNF187</text></g>
<g id="n9-RNF185"><circle class="d" cx="1131" cy="1041" r="9"/><text class="tl" x="1131" y="1041" style="font-size:8.5px">RNF185</text></g>
<g id="legend">
<rect x="74" y="1514" width="36" height="14" fill="#e9a3a5"/>
<text class="lg" x="131" y="1521">Physical interactions</text>
<rect x="74" y="1565" width="36" height="14" fill="#9fd8df"/>
<text class="lg" x="131" y="1573">Pathway</text>
<rect x="74" y="1617" width="36" height="14" fill="#dad5a0"/>
<text class="lg" x="131" y="1624">Shared protein domains</text>
<ellipse cx="480" cy="1533" rx="18" ry="19" fill="#3a9bc8"/>
<text class="lg" x="514" y="1519">Detected in</text>
<text class="lg" x="514" y="1547">this study</text>
<ellipse cx="478" cy="1622" rx="18" ry="19" fill="#00215e"/>
<text class="lg" x="514" y="1606">Detected in</text>
<text class="lg" x="514" y="1634">previous studies</text>
<ellipse cx="769" cy="1536" rx="18" ry="19" fill="#00ae4f"/>
<text class="lg" x="803" y="1523">Related gene</text>
<text class="lg" x="803" y="1551">to NDDs</text>
</g>
</svg>
